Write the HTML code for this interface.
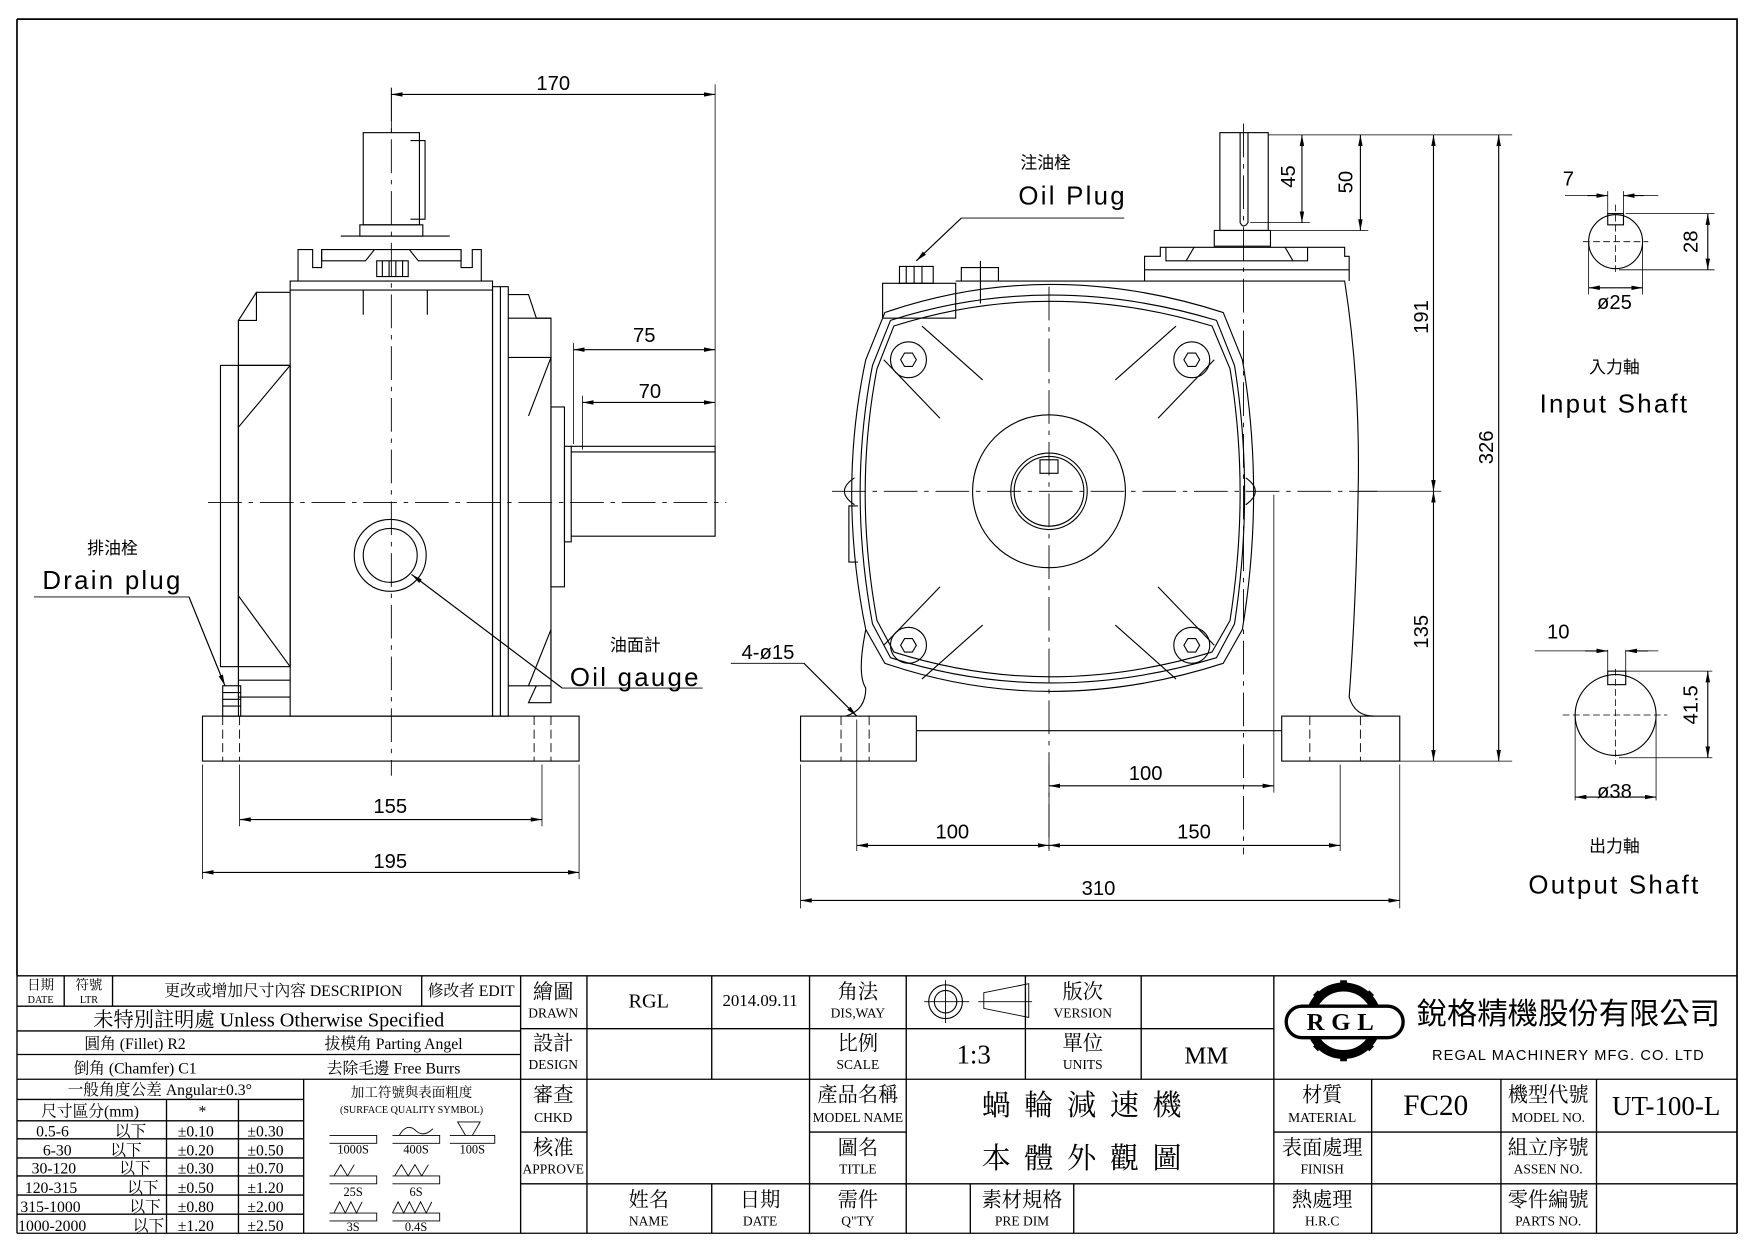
<!DOCTYPE html>
<html><head><meta charset="utf-8"><style>
html,body{margin:0;padding:0;background:#fff}
svg{display:block}
text{font-family:"Liberation Sans","Noto Sans CJK TC",sans-serif;fill:#000}
.t text{font-family:"Liberation Serif","Noto Serif CJK SC","Noto Sans CJK TC",serif}
</style></head><body>
<svg width="1754" height="1240" viewBox="0 0 1560 1103" xmlns="http://www.w3.org/2000/svg">
<defs>
<marker id="a" viewBox="0 0 10 4" refX="10" refY="2" markerWidth="10" markerHeight="4" orient="auto-start-reverse" markerUnits="userSpaceOnUse"><path d="M0,0L10,2L0,4z"/></marker>
</defs>
<rect x="0" y="0" width="1560" height="1103" fill="#fff"/>
<g fill="none" stroke="#000" stroke-width="1">
<path d="M15,17H1545V1097M15,17V868" stroke-width="1.5"/>

<g stroke-dasharray="30,6,4,6" stroke-width="0.8">
<line x1="348" y1="78" x2="348" y2="690"/>
<line x1="185" y1="447" x2="646" y2="447"/>
</g>
<rect x="323" y="118" width="50" height="82"/>
<path d="M365,125H378V195H365"/>
<rect x="320" y="200" width="56" height="10"/>
<line x1="303" y1="210" x2="400" y2="210"/>
<path d="M265,250V222H278V238H286V222H410V238H420V222H428V250"/>
<path d="M286,222V232H325L333,222M410,222V232H372L364,222"/>
<rect x="335" y="232" width="28" height="14"/>
<path d="M340,232V246M346,232V246M352,232V246M358,232V246"/>
<rect x="258" y="250" width="180" height="387"/>
<line x1="258" y1="258" x2="438" y2="258"/>
<path d="M323,258V280M380,258V280"/>
<path d="M258,260H228V285H212V637H258"/>
<path d="M228,260L212,285"/>
<path d="M212,285V626"/>
<rect x="212" y="325" width="46" height="268"/>
<rect x="196" y="325" width="16" height="268"/>
<path d="M212,325L258,325M258,325L212,380M258,593L212,530"/>
<path d="M212,605H258M212,620H258"/>
<rect x="198" y="610" width="16" height="27"/>
<path d="M198,616H214M198,622H214M198,628H214"/>
<rect x="438" y="255" width="14" height="382"/>
<line x1="445" y1="255" x2="445" y2="637"/>
<path d="M452,262H470L477,283H490V625H470L477,610"/>
<path d="M452,283H490M452,610H490"/>
<path d="M452,318H490L470,370M490,318V360M490,560L470,610M490,560V600"/>
<rect x="490" y="362" width="12" height="160"/>
<rect x="502" y="397" width="6" height="85"/>
<path d="M508,397H636V477H508"/>
<line x1="508" y1="402" x2="636" y2="402"/>
<circle cx="347" cy="494" r="32"/>
<circle cx="347" cy="494" r="24"/>
<rect x="180" y="637" width="335" height="40"/>
<g stroke-dasharray="8,4" stroke-width="0.8">
<path d="M198,637V677M213,637V677M475,637V677M490,637V677"/>
</g>
<path d="M348,78V118M636,75V400M510,305V395M518,352V400M213,680V735M482,680V735M180,680V782M515,680V782" stroke-width="0.7"/>
<line x1="348" y1="84" x2="636" y2="84" marker-start="url(#a)" marker-end="url(#a)"/>
<line x1="510" y1="311" x2="636" y2="311" marker-start="url(#a)" marker-end="url(#a)"/>
<line x1="518" y1="358" x2="636" y2="358" marker-start="url(#a)" marker-end="url(#a)"/>
<line x1="213" y1="729" x2="482" y2="729" marker-start="url(#a)" marker-end="url(#a)"/>
<line x1="180" y1="776" x2="515" y2="776" marker-start="url(#a)" marker-end="url(#a)"/>
<path d="M30,531H168L200,610" stroke-width="0.8"/>
<line x1="168" y1="531" x2="200" y2="610" marker-end="url(#a)"/>
<path d="M625,612H500L366,511" stroke-width="0.8"/>
<line x1="500" y1="612" x2="366" y2="511" marker-end="url(#a)"/>

<g stroke-dasharray="30,6,4,6" stroke-width="0.8">
<line x1="933" y1="255" x2="933" y2="760"/>
<line x1="740" y1="437" x2="1225" y2="437"/>
<line x1="1106" y1="110" x2="1106" y2="760"/>
</g>
<rect x="1085" y="118" width="43" height="87"/>
<path d="M1103,118V198Q1106,204 1110,198V118"/>
<rect x="1080" y="205" width="50" height="14"/>
<path d="M1018,250V228H1032V220H1196V228H1200V250"/>
<path d="M1037,220V232H1163V220M1055,232L1062,220M1150,232L1143,220"/>
<line x1="1018" y1="240" x2="1200" y2="240"/>
<path d="M850,250H1196Q1210,340 1208,437Q1206,540 1200,620Q1205,637 1222,637"/>
<path d="M787,278Q933,228 1088,278L1105,320Q1125,437 1105,560L1088,590Q933,640 787,590L770,560Q745,437 770,320Z"/>
<path d="M792,285Q933,240 1082,285L1098,325Q1116,437 1098,555L1082,585Q933,630 792,585L776,555Q754,437 776,325Z"/>
<path d="M795,290Q933,246 1078,290L1094,328Q1112,437 1094,552L1078,580Q933,624 795,580L780,552Q759,437 780,328Z"/>
<path d="M760,425Q742,437 760,449M1108,425Q1125,437 1108,449"/>
<path d="M770,560Q762,600 770,612Q770,632 752,637"/>
<path d="M763,450H755V500H763"/>
<g>
<circle cx="808" cy="320" r="16"/><circle cx="1060" cy="320" r="16"/>
<circle cx="808" cy="574" r="16"/><circle cx="1060" cy="574" r="16"/>
<path d="M801,320l3.5,-6h7l3.5,6l-3.5,6h-7z"/>
<path d="M1053,320l3.5,-6h7l3.5,6l-3.5,6h-7z"/>
<path d="M801,574l3.5,-6h7l3.5,6l-3.5,6h-7z"/>
<path d="M1053,574l3.5,-6h7l3.5,6l-3.5,6h-7z"/>
</g>
<path d="M820,290L874,338M786,320L836,372M1046,290L992,338M1080,320L1030,372M786,574L836,522M820,604L874,556M1080,574L1030,522M1046,604L992,556"/>
<circle cx="933" cy="437" r="68"/>
<circle cx="933" cy="437" r="34"/>
<circle cx="933" cy="437" r="31"/>
<rect x="925" y="409" width="16" height="12"/>
<rect x="785" y="252" width="65" height="31"/>
<rect x="800" y="237" width="30" height="15"/>
<path d="M806,237V252M813,237V252M820,237V252"/>
<path d="M855,250V238H888V250M872,232V270"/>
<rect x="712" y="637" width="103" height="40"/>
<rect x="1140" y="637" width="105" height="40"/>
<line x1="815" y1="650" x2="1140" y2="650"/>
<g stroke-dasharray="8,4" stroke-width="0.8">
<path d="M748,637V677M773,637V677M1165,637V677M1210,637V677"/>
</g>
<g stroke-width="0.7">
<path d="M1128,120H1345M1112,198H1165M1130,205H1217M1208,437H1282M1245,677H1345"/>
<path d="M762,640V757M933,680V757M1133,440V705M1192,680V757M712,680V808M1245,680V808"/>
</g>
<line x1="1158" y1="120" x2="1158" y2="198" marker-start="url(#a)" marker-end="url(#a)"/>
<line x1="1210" y1="120" x2="1210" y2="205" marker-start="url(#a)" marker-end="url(#a)"/>
<line x1="1275" y1="120" x2="1275" y2="437" marker-start="url(#a)" marker-end="url(#a)"/>
<line x1="1275" y1="437" x2="1275" y2="677" marker-start="url(#a)" marker-end="url(#a)"/>
<line x1="1333" y1="120" x2="1333" y2="677" marker-start="url(#a)" marker-end="url(#a)"/>
<line x1="933" y1="699" x2="1133" y2="699" marker-start="url(#a)" marker-end="url(#a)"/>
<line x1="762" y1="752" x2="933" y2="752" marker-start="url(#a)" marker-end="url(#a)"/>
<line x1="933" y1="752" x2="1192" y2="752" marker-start="url(#a)" marker-end="url(#a)"/>
<line x1="712" y1="801" x2="1245" y2="801" marker-start="url(#a)" marker-end="url(#a)"/>
<path d="M1000,194H855L815,232" stroke-width="0.8"/>
<line x1="855" y1="194" x2="815" y2="232" marker-end="url(#a)"/>
<path d="M650,590H715L762,637" stroke-width="0.8"/>
<line x1="715" y1="590" x2="762" y2="637" marker-end="url(#a)"/>

<circle cx="1437" cy="215" r="24"/>
<rect x="1430" y="190" width="14" height="10"/>
<g stroke-dasharray="6,3" stroke-width="0.7"><path d="M1437,182V245M1408,215H1466"/></g>
<path d="M1430,170V190M1444,170V190M1446,190H1525M1440,240H1525M1413,215V262M1461,215V262" stroke-width="0.7"/>
<path d="M1392,174H1430M1444,174H1475" stroke-width="0.7"/>
<line x1="1412" y1="174" x2="1430" y2="174" marker-end="url(#a)"/>
<line x1="1462" y1="174" x2="1444" y2="174" marker-end="url(#a)"/>
<line x1="1519" y1="190" x2="1519" y2="240" marker-start="url(#a)" marker-end="url(#a)"/>
<line x1="1413" y1="256" x2="1461" y2="256" marker-start="url(#a)" marker-end="url(#a)"/>
<circle cx="1437" cy="636" r="36"/>
<rect x="1430" y="597" width="16" height="12"/>
<g stroke-dasharray="6,3" stroke-width="0.7"><path d="M1437,595V680M1390,636H1483"/></g>
<path d="M1430,578V597M1446,578V597M1446,597H1523M1440,674H1523M1401,636V712M1473,636V712" stroke-width="0.7"/>
<path d="M1365,579H1430M1446,579H1475" stroke-width="0.7"/>
<line x1="1410" y1="579" x2="1430" y2="579" marker-end="url(#a)"/>
<line x1="1466" y1="579" x2="1446" y2="579" marker-end="url(#a)"/>
<line x1="1519" y1="597" x2="1519" y2="674" marker-start="url(#a)" marker-end="url(#a)"/>
<line x1="1401" y1="709" x2="1473" y2="709" marker-start="url(#a)" marker-end="url(#a)"/>

<g stroke-width="1.2">
<line x1="15" y1="868" x2="1545" y2="868"/>
<line x1="15" y1="1097" x2="1545" y2="1097"/>
<line x1="15" y1="868" x2="15" y2="1097"/>
<path d="M15,895H463M15,917H463M15,938H463M15,960H463M15,978H270M15,997H270M15,1013H270M15,1030H270M15,1046H270M15,1063H270M15,1080H270"/>
<path d="M57,868V895M100,868V895M375,868V895M463,868V1097M270,960V1097M148,978V1097M212,978V1097"/>
<path d="M463,915H1133M463,960H1545M463,1007H522M720,1007H806M1133,1007H1545M463,1053H1545"/>
<path d="M522,868V1097M633,868V960M633,1053V1097M720,868V1097M806,868V1097M912,868V960M1015,868V960M1133,868V1097M863,1053V1097M955,1053V1097M1220,960V1097M1335,960V1097M1420,960V1097"/>
</g>
<g stroke-width="0.8">
<path d="M293,1010H335V1017H293M349,1010H391V1017H349M400,1010H440V1017H400"/>
<path d="M355,1010Q362,998 370,1006Q377,1012 385,1004M414,1010L407,998H427L420,1010"/>
<path d="M293,1046H335V1053H293M349,1046H391V1053H349M297,1046L303,1036L309,1046L315,1036M351,1046L357,1036L363,1046L369,1036L375,1046L381,1036"/>
<path d="M293,1079H335V1086H293M349,1079H391V1086H349M297,1079L302,1069L307,1079L312,1069L317,1079L322,1069M349,1079L354,1069L359,1079L364,1069L369,1079L374,1069L379,1079L384,1069"/>
</g>
<circle cx="841" cy="891" r="15"/><circle cx="841" cy="891" r="10"/>
<path d="M822,891H862M841,872V910M875,883L915,875V905L875,897ZM870,891H918" stroke-width="0.8"/>
<circle cx="1195" cy="908" r="30" stroke-width="8"/>
<path d="M1195,872V880M1170,883L1176,889M1220,883L1214,889M1195,944V936M1170,933L1176,927M1220,933L1214,927" stroke-width="6"/>
<rect x="1144" y="895" width="104" height="28" rx="14" fill="#fff" stroke-width="3"/>
</g>

<g font-size="18" text-anchor="middle">
<text x="492" y="80">170</text>
<text x="573" y="304">75</text>
<text x="578" y="354">70</text>
<text x="347" y="723">155</text>
<text x="347" y="772">195</text>
<text x="1019" y="694">100</text>
<text x="847" y="746">100</text>
<text x="1062" y="746">150</text>
<text x="977" y="796">310</text>
<text x="1395" y="165">7</text>
<text x="1386" y="568">10</text>
<text x="1436" y="275">ø25</text>
<text x="1436" y="710">ø38</text>
<text x="683" y="586">4-ø15</text>
<text transform="translate(1152,157) rotate(-90)">45</text>
<text transform="translate(1203,162) rotate(-90)">50</text>
<text transform="translate(1270,282) rotate(-90)">191</text>
<text transform="translate(1328,398) rotate(-90)">326</text>
<text transform="translate(1270,562) rotate(-90)">135</text>
<text transform="translate(1510,215) rotate(-90)">28</text>
<text transform="translate(1510,627) rotate(-90)">41.5</text>
</g>
<g font-size="15" text-anchor="middle">
<text x="100" y="493">排油栓</text>
<text x="565" y="579">油面計</text>
<text x="930" y="150">注油栓</text>
<text x="1436" y="332">入力軸</text>
<text x="1436" y="758">出力軸</text>
</g>
<g font-size="23" text-anchor="middle" letter-spacing="2">
<text x="100" y="524">Drain plug</text>
<text x="565" y="610">Oil gauge</text>
<text x="954" y="182">Oil Plug</text>
<text x="1436" y="367">Input Shaft</text>
<text x="1436" y="795">Output Shaft</text>
</g>

<g class="t" text-anchor="middle">
<g font-size="12"><text x="36" y="880">日期</text><text x="79" y="880">符號</text></g>
<g font-size="9"><text x="36" y="892">DATE</text><text x="79" y="892">LTR</text></g>
<text x="252" y="886" font-size="14">更改或增加尺寸內容 DESCRIPION</text>
<text x="419" y="886" font-size="14">修改者 EDIT</text>
<text x="239" y="913" font-size="18">未特別註明處 Unless Otherwise Specified</text>
<text x="120" y="933" font-size="14">圓角 (Fillet) R2</text>
<text x="350" y="933" font-size="14">拔模角 Parting Angel</text>
<text x="120" y="955" font-size="14">倒角 (Chamfer) C1</text>
<text x="350" y="955" font-size="14">去除毛邊 Free Burrs</text>
<text x="142" y="974" font-size="14">一般角度公差 Angular±0.3°</text>
<text x="80" y="993" font-size="14">尺寸區分(mm)</text>
<text x="180" y="993" font-size="14">*</text>
<text x="366" y="976" font-size="12">加工符號與表面粗度</text>
<text x="366" y="990" font-size="9">(SURFACE QUALITY SYMBOL)</text>
<g font-size="14" text-anchor="start">
<text x="32" y="1011">0.5-6</text><text x="102" y="1011">以下</text><text x="158" y="1011">±0.10</text><text x="220" y="1011">±0.30</text>
<text x="38" y="1028">6-30</text><text x="98" y="1028">以下</text><text x="158" y="1028">±0.20</text><text x="220" y="1028">±0.50</text>
<text x="28" y="1044">30-120</text><text x="106" y="1044">以下</text><text x="158" y="1044">±0.30</text><text x="220" y="1044">±0.70</text>
<text x="22" y="1061">120-315</text><text x="113" y="1061">以下</text><text x="158" y="1061">±0.50</text><text x="220" y="1061">±1.20</text>
<text x="18" y="1078">315-1000</text><text x="115" y="1078">以下</text><text x="158" y="1078">±0.80</text><text x="220" y="1078">±2.00</text>
<text x="16" y="1095">1000-2000</text><text x="118" y="1095">以下</text><text x="158" y="1095">±1.20</text><text x="220" y="1095">±2.50</text>
</g>
<g font-size="11">
<text x="314" y="1026">1000S</text><text x="370" y="1026">400S</text><text x="420" y="1026">100S</text>
<text x="314" y="1064">25S</text><text x="370" y="1064">6S</text>
<text x="314" y="1095">3S</text><text x="370" y="1095">0.4S</text>
</g>
<g font-size="18">
<text x="492" y="888">繪圖</text><text x="492" y="934">設計</text><text x="492" y="980">審查</text><text x="492" y="1027">核准</text>
<text x="763" y="888">角法</text><text x="763" y="934">比例</text><text x="763" y="980">產品名稱</text><text x="763" y="1027">圖名</text>
<text x="577" y="1073">姓名</text><text x="676" y="1073">日期</text><text x="763" y="1073">需件</text><text x="909" y="1073">素材規格</text>
<text x="963" y="888">版次</text><text x="963" y="934">單位</text>
<text x="1176" y="980">材質</text><text x="1176" y="1027">表面處理</text><text x="1176" y="1073">熱處理</text>
<text x="1377" y="980">機型代號</text><text x="1377" y="1027">組立序號</text><text x="1377" y="1073">零件編號</text>
</g>
<g font-size="12">
<text x="492" y="905">DRAWN</text><text x="492" y="951">DESIGN</text><text x="492" y="998">CHKD</text><text x="492" y="1044">APPROVE</text>
<text x="763" y="905">DIS,WAY</text><text x="763" y="951">SCALE</text><text x="763" y="998">MODEL NAME</text><text x="763" y="1044">TITLE</text>
<text x="577" y="1090">NAME</text><text x="676" y="1090">DATE</text><text x="763" y="1090">Q"TY</text><text x="909" y="1090">PRE DIM</text>
<text x="963" y="905">VERSION</text><text x="963" y="951">UNITS</text>
<text x="1176" y="998">MATERIAL</text><text x="1176" y="1044">FINISH</text><text x="1176" y="1090">H.R.C</text>
<text x="1377" y="998">MODEL NO.</text><text x="1377" y="1044">ASSEN NO.</text><text x="1377" y="1090">PARTS NO.</text>
</g>
<text x="577" y="896" font-size="18">RGL</text>
<text x="676" y="895" font-size="15">2014.09.11</text>
<text x="866" y="946" font-size="24">1:3</text>
<text x="1073" y="946" font-size="22">MM</text>
<text x="968" y="992" font-size="26" letter-spacing="12">蝸輪減速機</text>
<text x="968" y="1039" font-size="26" letter-spacing="12">本體外觀圖</text>
<text x="1277" y="992" font-size="26">FC20</text>
<text x="1482" y="992" font-size="24">UT-100-L</text>
<text x="1195" y="916" font-size="22" font-weight="bold" letter-spacing="6">RGL</text>
</g>
<text x="1395" y="911" font-size="27" text-anchor="middle" font-family="Noto Sans CJK TC,sans-serif">銳格精機股份有限公司</text>
<text x="1395" y="943" font-size="13" text-anchor="middle" letter-spacing="1">REGAL MACHINERY MFG. CO. LTD</text>
</svg>
</body></html>
